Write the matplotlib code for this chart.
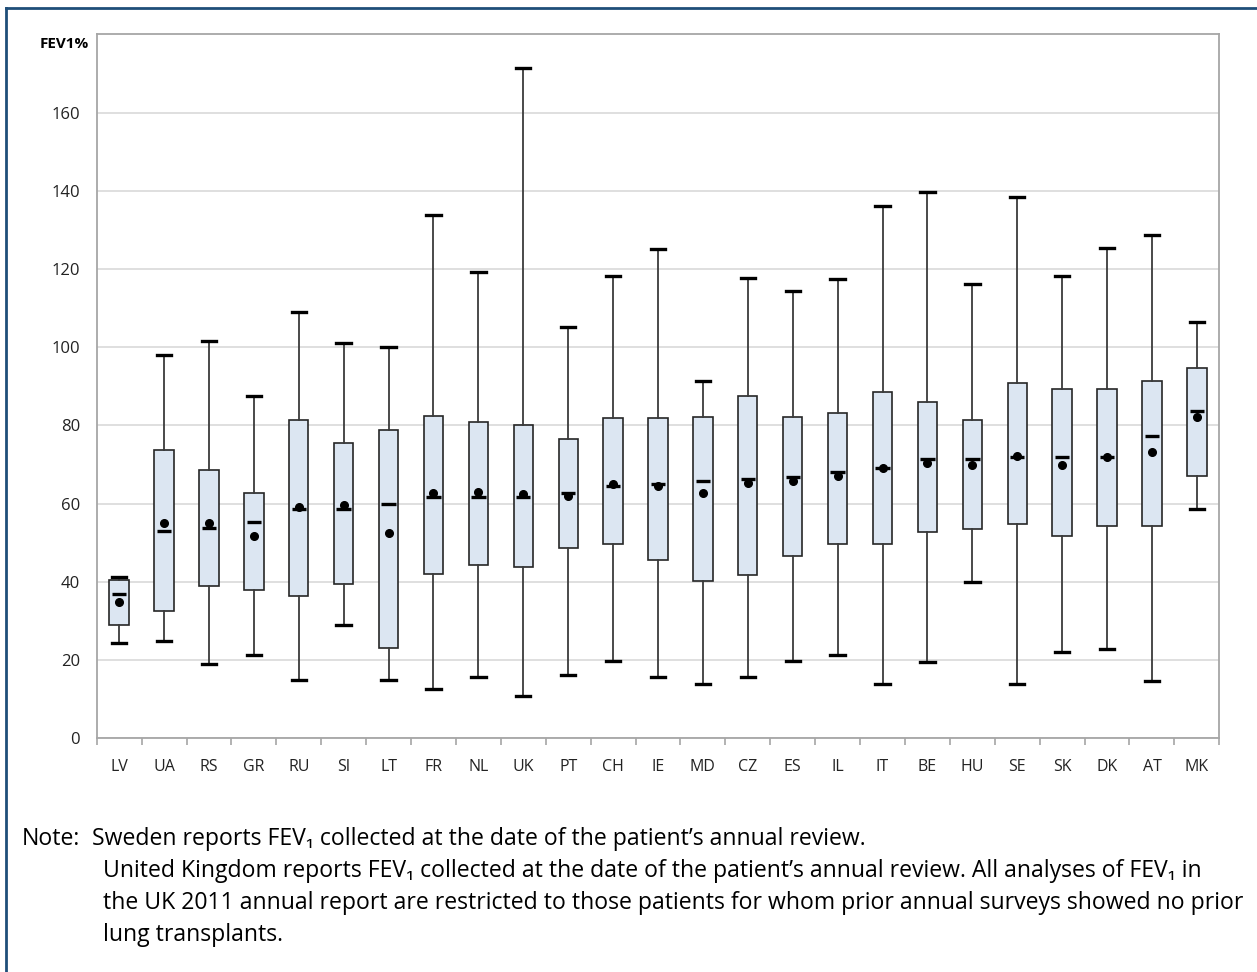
import matplotlib
matplotlib.use("Agg")
import matplotlib.pyplot as plt
import numpy as np
from matplotlib.lines import Line2D

plt.rcParams['font.family'] = ['Open Sans', 'DejaVu Sans']

# Data (FEV1 % predicted by country)
countries = ['LV', 'UA', 'RS', 'GR', 'RU', 'SI', 'LT', 'FR', 'NL', 'UK', 'PT', 'CH', 'IE',
             'MD', 'CZ', 'ES', 'IL', 'IT', 'BE', 'HU', 'SE', 'SK', 'DK', 'AT', 'MK']
whisker_low = [24.4, 24.9, 19.1, 21.3, 14.9, 29.0, 14.9, 12.6, 15.6, 10.8, 16.2, 19.7, 15.6,
               13.8, 15.6, 19.7, 21.3, 13.8, 19.5, 40.0, 13.8, 22.1, 22.8, 14.6, 58.5]
q1 = [28.9, 32.6, 39.0, 38.0, 36.5, 39.5, 23.1, 42.1, 44.4, 43.7, 48.6, 49.8, 45.6,
      40.3, 41.7, 46.7, 49.7, 49.8, 52.8, 53.6, 54.7, 51.6, 54.3, 54.3, 67.0]
median = [36.9, 53.1, 53.8, 55.4, 58.5, 58.5, 60.0, 61.8, 61.8, 61.8, 62.8, 64.4, 64.9,
          65.8, 66.4, 66.7, 68.1, 69.0, 71.3, 71.3, 72.0, 72.0, 72.0, 77.4, 83.8]
q3 = [40.6, 73.7, 68.5, 62.7, 81.4, 75.6, 78.7, 82.5, 80.9, 80.2, 76.4, 81.8, 81.8,
      82.1, 87.4, 82.1, 83.2, 88.6, 86.0, 81.4, 90.9, 89.3, 89.3, 91.3, 94.8]
whisker_high = [41.3, 98.0, 101.5, 87.4, 108.9, 101.0, 100.0, 133.7, 119.1, 171.4, 105.1, 118.1, 125.0,
                91.4, 117.6, 114.3, 117.4, 136.0, 139.8, 116.1, 138.3, 118.1, 125.3, 128.8, 106.4]
mean = [34.9, 55.1, 55.1, 51.6, 59.2, 59.6, 52.4, 62.6, 63.1, 62.5, 61.9, 64.9, 64.5,
        62.6, 65.4, 65.7, 67.1, 69.2, 70.3, 69.9, 72.2, 69.9, 71.8, 73.3, 82.1]

note_lines = [
    "Sweden reports FEV\u2081 collected at the date of the patient\u2019s annual review.",
    "United Kingdom reports FEV\u2081 collected at the date of the patient\u2019s annual review. All analyses of FEV\u2081 in",
    "the UK 2011 annual report are restricted to those patients for whom prior annual surveys showed no prior",
    "lung transplants.",
]

W, H = 1257, 972
fig = plt.figure(figsize=(W / 100, H / 100), dpi=100)
ax = fig.add_axes([96.7 / W, 1 - 738.3 / H, (1219.3 - 96.7) / W, (738.3 - 34.3) / H])

stats = []
for i in range(len(countries)):
    stats.append({'label': countries[i], 'whislo': whisker_low[i], 'q1': q1[i], 'med': median[i],
                  'q3': q3[i], 'whishi': whisker_high[i], 'mean': mean[i]})

pos = np.arange(len(countries))
ax.bxp(stats, positions=pos, widths=0.43, capwidths=0.32, patch_artist=True,
       showmeans=True, showfliers=False,
       boxprops=dict(facecolor='#DCE6F2', edgecolor='#262626', linewidth=1.2),
       whiskerprops=dict(color='#3a3a3a', linewidth=1.3),
       capprops=dict(color='black', linewidth=2.4),
       medianprops=dict(linewidth=0),
       meanprops=dict(marker='o', markerfacecolor='black', markeredgecolor='black', markersize=5.5),
       zorder=3)
# median bars are a bit narrower than the boxes
ax.hlines(median, pos - 0.16, pos + 0.16, colors='black', linewidth=2.4, zorder=4)

ax.set_xlim(-0.5, len(countries) - 0.5)
ax.set_ylim(0, 180)
ax.set_yticks(range(0, 161, 20))
ax.set_xticks(pos)
ax.set_xticklabels(countries, fontsize=11.5, color='#222222')
ax.set_xticks(np.arange(-0.5, len(countries), 1), minor=True)
ax.tick_params(axis='x', which='major', length=0, pad=15)
ax.tick_params(axis='x', which='minor', length=5, color='#A6A6A6', width=1.2)
ax.tick_params(axis='y', length=0, pad=12, labelsize=12, labelcolor='#222222')

ax.grid(axis='y', color='#D9D9D9', linewidth=1.2, zorder=0)
ax.set_axisbelow(True)
for s in ax.spines.values():
    s.set_color('#A6A6A6')
    s.set_linewidth(1.3)

fig.text(89 / W, 1 - 44 / H, 'FEV1%', ha='right', va='center', fontsize=11, fontweight='bold')

# notes below the chart; size chosen so the longest line ends where the original does
note_size = 15
renderer = fig.canvas.get_renderer()
widest = 0
for line in note_lines[1:3]:
    probe = fig.text(0, 0, line, fontsize=note_size)
    widest = max(widest, probe.get_window_extent(renderer).width)
    probe.remove()
note_size = note_size * (1244 - 103) / widest

fig.text(22 / W, 1 - 845 / H, 'Note:', ha='left', va='baseline', fontsize=note_size)
fig.text(92 / W, 1 - 845 / H, note_lines[0], ha='left', va='baseline', fontsize=note_size)
for k, line in enumerate(note_lines[1:]):
    fig.text(103 / W, 1 - (877 + 32 * k) / H, line, ha='left', va='baseline', fontsize=note_size)

# blue outer frame (only left and top edges are in view)
frame_col = '#1F4E79'
fig.add_artist(Line2D([6 / W, 6 / W], [0, 1 - 8 / H], transform=fig.transFigure, color=frame_col, lw=2))
fig.add_artist(Line2D([6 / W, 1], [1 - 8 / H, 1 - 8 / H], transform=fig.transFigure, color=frame_col, lw=2))

fig.savefig('out.png', dpi=100)
